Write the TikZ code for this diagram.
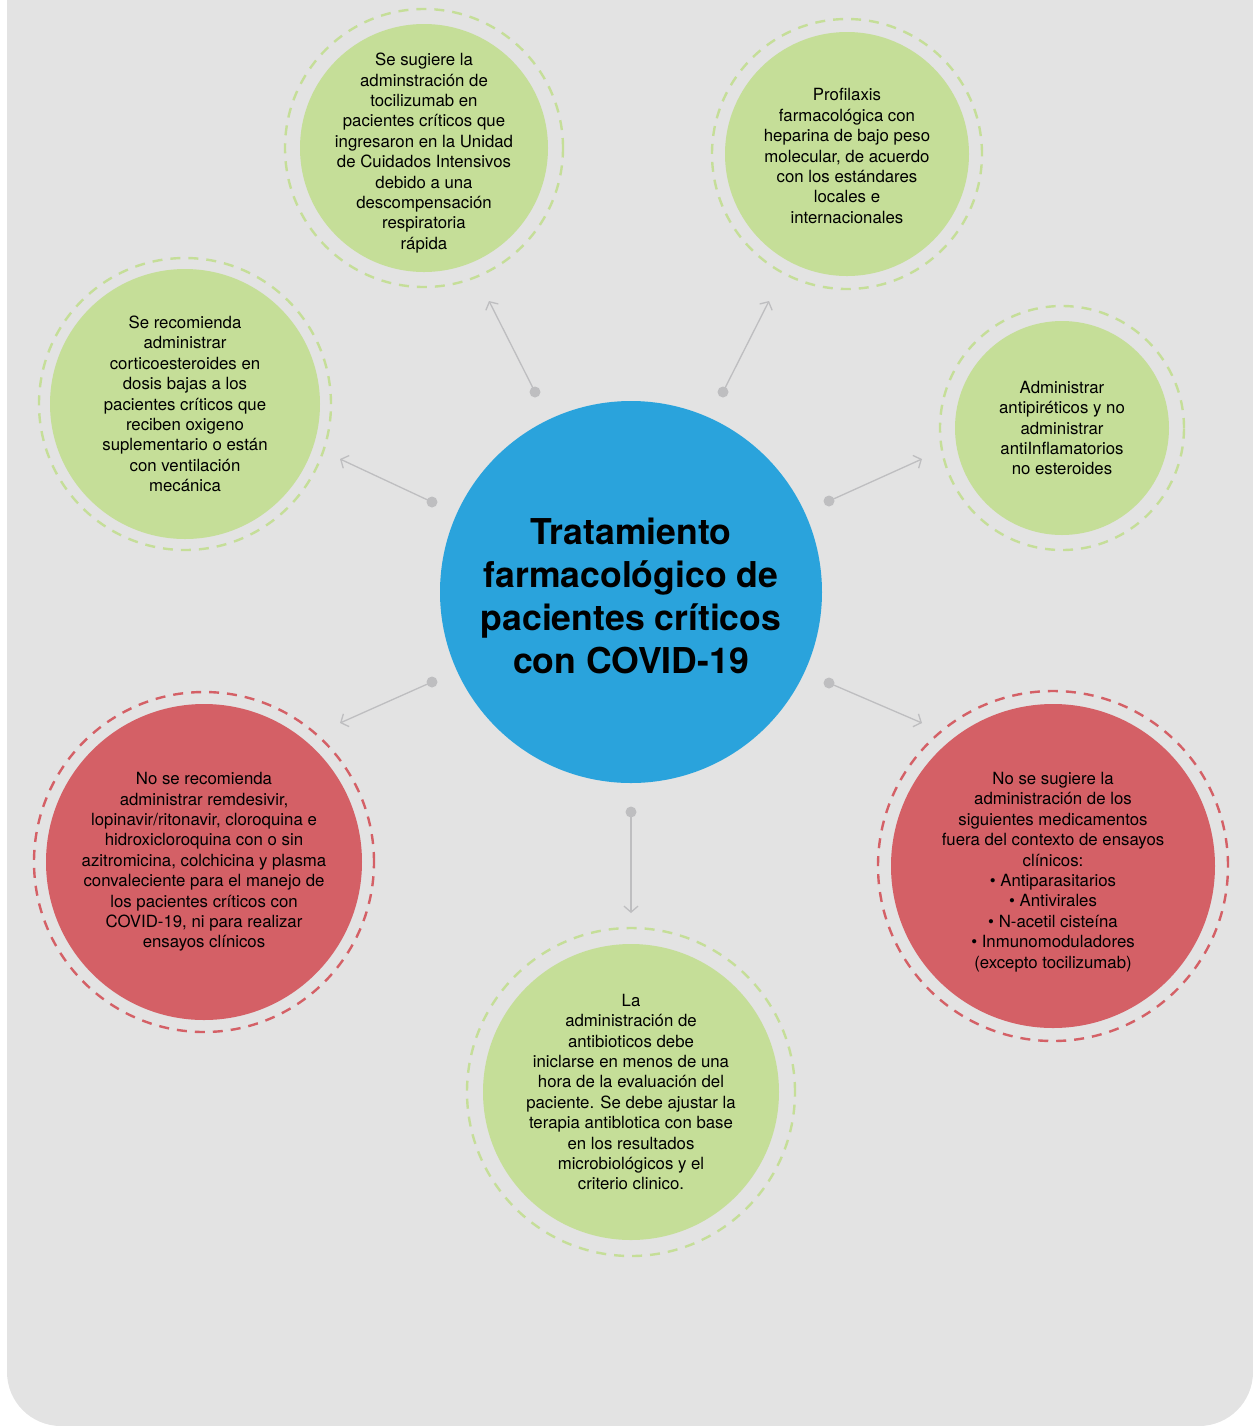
\documentclass[tikz,border=0pt]{standalone}
\usepackage{fontspec}
\setmainfont{TeX Gyre Heros}
\usetikzlibrary{arrows.meta}

\definecolor{bgGray}{HTML}{E3E3E3}
\definecolor{mainBlue}{HTML}{2AA3DC}
\definecolor{leafGreen}{HTML}{C5DE98}
\definecolor{warnRed}{HTML}{D46066}
\definecolor{linkGray}{HTML}{BEBEC0}

\begin{document}
\begin{tikzpicture}[
    x=0.5pt, y=-0.5pt,
    bubble/.style={circle, inner sep=0pt},
    bubtext/.style={inner sep=0pt, align=center, font=\fontsize{8.4}{10.2}\selectfont},
    ring/.style={circle, draw, line width=1.2pt, dash pattern=on 5pt off 4pt, inner sep=0pt},
    dotnode/.style={circle, fill=linkGray, inner sep=0pt, minimum size=5.5pt},
    link/.style={draw=linkGray, line width=0.65pt, -{Straight Barb[length=3pt,width=7pt]}}
  ]

\useasboundingbox (0,0) rectangle (1253,1426);
% Background panel
\fill[bgGray, rounded corners=27pt] (7,-100) rectangle (1253,1426);

% Central topic
\node[circle, fill=mainBlue, minimum size=191pt, inner sep=0pt] (main) at (631,592) {};
\node[align=center, inner sep=0pt, yshift=-2pt,
      font=\bfseries\fontsize{17.8}{21.4}\selectfont] (main-txt) at (main)
  {Tratamiento\\farmacológico de\\pacientes críticos\\con COVID-19};

% Green recommendations
\node[ring, draw=leafGreen, minimum size=139pt] (tocil-ring) at (424,148) {};
\node[bubble, fill=leafGreen, minimum size=124pt] (tocil) at (424,148) {};
\node[bubtext, yshift=-2.5pt] (tocil-txt) at (tocil)
  {Se sugiere la\\adminstración de\\tocilizumab en\\pacientes críticos que\\ingresaron en la Unidad\\de Cuidados Intensivos\\debido a una\\descompensación\\respiratoria\\rápida};

\node[ring, draw=leafGreen, minimum size=135pt] (profi-ring) at (847,154) {};
\node[bubble, fill=leafGreen, minimum size=122pt] (profi) at (847,154) {};
\node[bubtext, yshift=-1pt] (profi-txt) at (profi)
  {Profilaxis\\farmacológica con\\heparina de bajo peso\\molecular, de acuerdo\\con los estándares\\locales e\\internacionales};

\node[ring, draw=leafGreen, minimum size=146pt] (cortic-ring) at (185,404) {};
\node[bubble, fill=leafGreen, minimum size=135pt] (cortic) at (185,404) {};
\node[bubtext] (cortic-txt) at (cortic)
  {Se recomienda\\administrar\\corticoesteroides en\\dosis bajas a los\\pacientes críticos que\\reciben oxigeno\\suplementario o están\\con ventilación\\mecánica};

\node[ring, draw=leafGreen, minimum size=122pt] (antipi-ring) at (1062,428) {};
\node[bubble, fill=leafGreen, minimum size=107pt] (antipi) at (1062,428) {};
\node[bubtext] (antipi-txt) at (antipi)
  {Administrar\\antipiréticos y no\\administrar\\antiInflamatorios\\no esteroides};

\node[ring, draw=leafGreen, minimum size=164pt] (antib-ring) at (631,1092) {};
\node[bubble, fill=leafGreen, minimum size=148pt] (antib) at (631,1092) {};
\node[bubtext] (antib-txt) at (antib)
  {La\\administración de\\antibioticos debe\\iniclarse en menos de una\\hora de la evaluación del\\paciente. Se debe ajustar la\\terapia antiblotica con base\\en los resultados\\microbiológicos y el\\criterio clinico.};

% Red warnings
\node[ring, draw=warnRed, minimum size=170pt] (noremd-ring) at (204,862) {};
\node[bubble, fill=warnRed, minimum size=158pt] (noremd) at (204,862) {};
\node[bubtext] (noremd-txt) at (noremd)
  {No se recomienda\\administrar remdesivir,\\lopinavir/ritonavir, cloroquina e\\hidroxicloroquina con o sin\\azitromicina, colchicina y plasma\\convaleciente para el manejo de\\los pacientes críticos con\\COVID-19, ni para realizar\\ensayos clínicos};

\node[ring, draw=warnRed, minimum size=175pt] (nosug-ring) at (1053,866) {};
\node[bubble, fill=warnRed, minimum size=162pt] (nosug) at (1053,866) {};
\node[bubtext, yshift=-3pt] (nosug-txt) at (nosug)
  {No se sugiere la\\administración de los\\siguientes medicamentos\\fuera del contexto de ensayos\\clínicos:\\\textbullet{} Antiparasitarios\\\textbullet{} Antivirales\\\textbullet{} N-acetil cisteína\\\textbullet{} Inmunomoduladores\\(excepto tocilizumab)};

% Connectors
\node[dotnode] (d1) at (535,392) {};
\node[dotnode] (d2) at (723,392) {};
\node[dotnode] (d3) at (432,502) {};
\node[dotnode] (d4) at (829,501) {};
\node[dotnode] (d5) at (432,682) {};
\node[dotnode] (d6) at (829,683) {};
\node[dotnode] (d7) at (631,812) {};
\coordinate (e1) at (489,301);
\coordinate (e2) at (769,301);
\coordinate (e3) at (340,459);
\coordinate (e4) at (922,459);
\coordinate (e5) at (340,723);
\coordinate (e6) at (922,723);
\coordinate (e7) at (631,913);
\foreach \k in {1,...,7} {
  \draw[link] (d\k.center) -- (e\k);
}

\end{tikzpicture}
\end{document}
